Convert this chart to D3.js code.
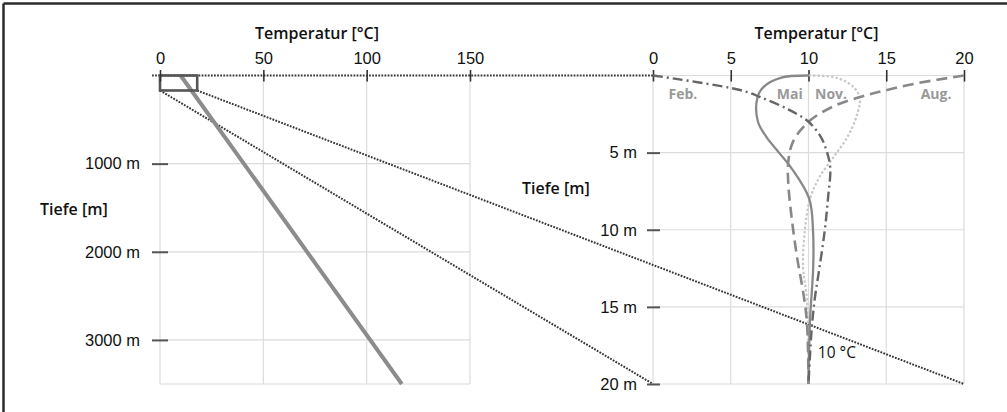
<!DOCTYPE html>
<html><head><meta charset="utf-8">
<script src="https://cdn.jsdelivr.net/npm/d3@7"></script>
<style>
html,body{margin:0;padding:0;background:#fff;}
svg{display:block;font-family:"Open Sans",sans-serif;}
</style></head>
<body>
<svg id="c" width="1007" height="412"></svg>
<script>
// ---- data ----
const leftTempTicks = [0, 50, 100, 150];
const leftDepthTicks = [1000, 2000, 3000];
const rightTempTicks = [0, 5, 10, 15, 20];
const rightDepthTicks = [5, 10, 15, 20];
const axisTitle = "Temperatur [°C]";
const depthTitle = "Tiefe [m]";
// geothermal gradient (left): depth m, temp °C
const gradDepth = [0, 3500];
const gradTemp = [10, 117];
// zoom box in left panel (temp °C, depth m)
const boxTemp = [0, 18];
const boxDepth = [0, 170];
// seasonal profiles (right): depth m, temp °C
const months = ["Feb.", "Mai", "Nov.", "Aug."];
const febDepth = [0, 0.94, 1.4, 2.2, 3, 4, 5, 6, 8, 10, 12.5, 14.5, 16.5, 20];
const febTemp  = [0, 5.6, 6.9, 8.7, 10, 10.8, 11.2, 11.4, 11.25, 11.05, 10.7, 10.4, 10.2, 10];
const maiDepth = [0, 0.15, 0.75, 1.5, 3, 4, 5, 6, 8, 10.3, 12.5, 15.8, 20];
const maiTemp  = [10, 8.2, 7.1, 6.7, 6.75, 7.3, 8.1, 8.9, 10.05, 10.3, 10.3, 10.1, 10];
const augDepth = [0, 0.5, 1, 1.4, 2, 3, 4.3, 5.6, 7, 9.5, 12, 14, 16, 20];
const augTemp  = [20, 17, 14.8, 13.3, 11.6, 10, 9, 8.7, 8.7, 8.95, 9.3, 9.65, 9.9, 10];
const novDepth = [0, 0.15, 0.75, 1.5, 2.6, 4, 5.3, 6.6, 8, 10.2, 12.4, 14.5, 20];
const novTemp  = [10, 11.8, 12.9, 13.3, 13.1, 12.5, 11.6, 10.7, 10.1, 9.75, 9.65, 9.9, 10];
const labelTemp = [1.0, 8.8, 11.45, 18.2];
const labelDepth = [1.5, 1.5, 1.5, 1.5];
const noteText = "10 °C";
const noteTemp = 10.6, noteDepth = 18.3;

// ---- scales ----
const svg = d3.select("#c");
const xL = d3.scaleLinear().domain([0, 150]).range([160, 470]);
const yL = d3.scaleLinear().domain([0, 3500]).range([75.5, 384]);
const xR = d3.scaleLinear().domain([0, 20]).range([653, 964]);
const yR = d3.scaleLinear().domain([0, 20]).range([75.5, 384]);

// border (top & left)
svg.append("line").attr("x1", 3.5).attr("x2", 1007).attr("y1", 3.5).attr("y2", 3.5).attr("stroke", "#2b2b2b").attr("stroke-width", 2.5);
svg.append("line").attr("x1", 3.5).attr("x2", 3.5).attr("y1", 3.5).attr("y2", 412).attr("stroke", "#2b2b2b").attr("stroke-width", 2.5);

const gridC = "#dcdcdc";
// left grid
const gl = svg.append("g");
gl.selectAll(".v").data(leftTempTicks).join("line")
  .attr("x1", d => xL(d)).attr("x2", d => xL(d)).attr("y1", yL(0)).attr("y2", yL(3500))
  .attr("stroke", gridC).attr("stroke-width", 1.2);
gl.selectAll(".h").data(leftDepthTicks.concat([3500])).join("line")
  .attr("x1", xL(0)).attr("x2", xL(150)).attr("y1", d => yL(d)).attr("y2", d => yL(d))
  .attr("stroke", gridC).attr("stroke-width", 1.2);
// right grid
const gr = svg.append("g");
gr.selectAll(".v").data(rightTempTicks).join("line")
  .attr("x1", d => xR(d)).attr("x2", d => xR(d)).attr("y1", yR(0)).attr("y2", yR(20))
  .attr("stroke", gridC).attr("stroke-width", 1.2);
gr.selectAll(".h").data([0].concat(rightDepthTicks)).join("line")
  .attr("x1", xR(0)).attr("x2", xR(20)).attr("y1", d => yR(d)).attr("y2", d => yR(d))
  .attr("stroke", gridC).attr("stroke-width", 1.2);

// dotted connectors
const dotted = (x1, y1, x2, y2) => svg.append("line").attr("x1", x1).attr("y1", y1).attr("x2", x2).attr("y2", y2)
  .attr("stroke", "#383838").attr("stroke-width", 2).attr("stroke-dasharray", "1.8,1.3");
dotted(xL(0) - 8, yL(0), xR(0), yR(0));
dotted(xL(boxTemp[1]), yL(boxDepth[1]), xR(20), yR(20));
dotted(xL(boxTemp[0]), yL(boxDepth[1]), xR(0), yR(20));

// geothermal line
svg.append("path")
  .datum(d3.zip(gradTemp, gradDepth))
  .attr("d", d3.line().x(d => xL(d[0])).y(d => yL(d[1])))
  .attr("fill", "none").attr("stroke", "#8c8c8c").attr("stroke-width", 4);

// box
svg.append("rect")
  .attr("x", xL(boxTemp[0])).attr("y", yL(boxDepth[0]))
  .attr("width", xL(boxTemp[1]) - xL(boxTemp[0])).attr("height", yL(boxDepth[1]) - yL(boxDepth[0]))
  .attr("fill", "none").attr("stroke", "#555").attr("stroke-width", 2.6);

// axes
function styleTop(g) {
  g.select(".domain").remove();
  g.selectAll(".tick line").attr("y1", -5.5).attr("y2", 6).attr("stroke", "#333").attr("stroke-width", 1.6);
  g.selectAll(".tick text").attr("y", -11.5).attr("dy", 0).attr("font-size", 16.5).attr("fill", "#111");
}
const axL = svg.append("g").attr("transform", `translate(0,${yL(0)})`)
  .call(d3.axisTop(xL).tickValues(leftTempTicks).tickFormat(d3.format("d")));
styleTop(axL);
const axR = svg.append("g").attr("transform", `translate(0,${yR(0)})`)
  .call(d3.axisTop(xR).tickValues(rightTempTicks).tickFormat(d3.format("d")));
styleTop(axR);

function styleLeft(g, x1, x2, tx) {
  g.select(".domain").remove();
  g.selectAll(".tick line").attr("x1", x1).attr("x2", x2).attr("stroke", "#555").attr("stroke-width", 2);
  g.selectAll(".tick text").attr("x", tx).attr("font-size", 16.5).attr("fill", "#111");
}
const ayL = svg.append("g").attr("transform", `translate(${xL(0)},0)`)
  .call(d3.axisLeft(yL).tickValues(leftDepthTicks).tickFormat(d => d + " m"));
styleLeft(ayL, -8, 8, -20);
const ayR = svg.append("g").attr("transform", `translate(${xR(0)},0)`)
  .call(d3.axisLeft(yR).tickValues(rightDepthTicks).tickFormat(d => d + " m"));
styleLeft(ayR, -6, 7, -16);

// titles
svg.append("text").attr("x", (xL(0) + xL(150)) / 2 + 2).attr("y", 39).attr("text-anchor", "middle")
  .attr("font-size", 16).attr("font-weight", 600).attr("fill", "#111").text(axisTitle);
svg.append("text").attr("x", (xR(0) + xR(20)) / 2 + 8).attr("y", 39).attr("text-anchor", "middle")
  .attr("font-size", 16).attr("font-weight", 600).attr("fill", "#111").text(axisTitle);
svg.append("text").attr("x", 40).attr("y", 215).attr("font-size", 16).attr("font-weight", 600).attr("fill", "#111").text(depthTitle);
svg.append("text").attr("x", 522).attr("y", 194).attr("font-size", 16).attr("font-weight", 600).attr("fill", "#111").text(depthTitle);

// profiles
const prof = d3.line().x(d => xR(d[0])).y(d => yR(d[1])).curve(d3.curveCatmullRom.alpha(0.5));
const series = [
  {t: novTemp, d: novDepth, c: "#c8c8c8", w: 2.2, dash: "2.5,2"},
  {t: augTemp, d: augDepth, c: "#888", w: 2.6, dash: "11,6"},
  {t: maiTemp, d: maiDepth, c: "#888", w: 2.3, dash: null},
  {t: febTemp, d: febDepth, c: "#666", w: 2.4, dash: "10,4,2,4"}
];
series.forEach(s => {
  svg.append("path").datum(d3.zip(s.t, s.d)).attr("d", prof)
    .attr("fill", "none").attr("stroke", s.c).attr("stroke-width", s.w)
    .attr("stroke-dasharray", s.dash);
});

// month labels
svg.selectAll(".ml").data(months).join("text")
  .attr("x", (d, i) => xR(labelTemp[i])).attr("y", (d, i) => yR(labelDepth[i]))
  .attr("text-anchor", (d, i) => i === 0 ? "start" : "middle")
  .attr("font-size", 14).attr("font-weight", 700).attr("fill", "#999").text(d => d);

svg.append("text").attr("x", xR(noteTemp)).attr("y", yR(noteDepth)).attr("font-size", 15.5).attr("fill", "#111").text(noteText);
</script>
</body></html>
